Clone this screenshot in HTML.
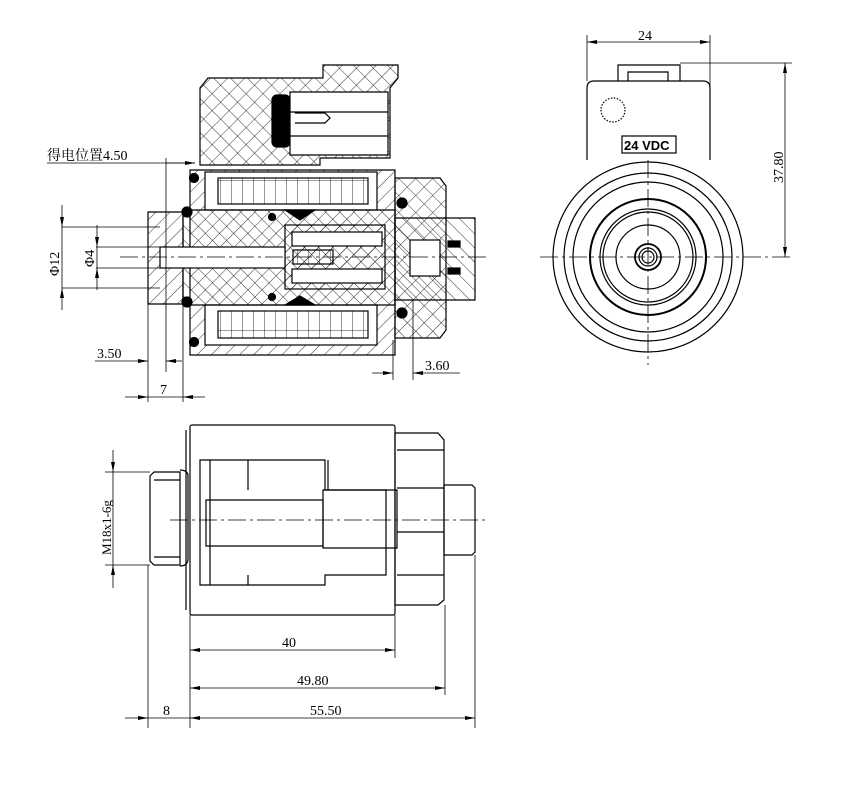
<!DOCTYPE html>
<html><head><meta charset="utf-8"><style>
html,body{margin:0;padding:0;background:#fff;width:852px;height:800px;overflow:hidden}
text{font-family:"Liberation Serif","Noto Serif CJK SC",serif;fill:#000}
</style></head><body>
<svg width="852" height="800" viewBox="0 0 852 800" xmlns="http://www.w3.org/2000/svg">
<defs>
<pattern id="h1" width="10" height="10" patternUnits="userSpaceOnUse" patternTransform="rotate(45)"><line x1="0" y1="0" x2="0" y2="10" stroke="#000" stroke-width="0.8"/></pattern>
<pattern id="h2" width="10" height="10" patternUnits="userSpaceOnUse" patternTransform="rotate(-45)"><line x1="0" y1="0" x2="0" y2="10" stroke="#000" stroke-width="0.8"/></pattern>
<pattern id="x1" width="12" height="12" patternUnits="userSpaceOnUse" patternTransform="rotate(45)"><path d="M0 0V12M0 0H12" stroke="#000" stroke-width="0.8" fill="none"/></pattern>
<pattern id="g1" width="11" height="30" patternUnits="userSpaceOnUse"><path d="M0 0V30M0 0H11" stroke="#000" stroke-width="0.8" fill="none"/></pattern>
<marker id="a" viewBox="0 0 10 4" refX="10" refY="2" markerWidth="10" markerHeight="4" orient="auto-start-reverse" markerUnits="userSpaceOnUse"><path d="M0 0L10 2L0 4z" fill="#000"/></marker>
</defs>
<g stroke="#000" fill="none" stroke-width="1.2">
<!-- TOP SECTION VIEW -->
<path d="M208 78H323V65H398V78L390 88V158H320V165H200V88Z" fill="url(#x1)"/>
<rect x="272" y="95" width="18" height="52" rx="5" fill="#000"/>
<path d="M290 92H388V155H290Z" fill="#fff"/>
<line x1="290" y1="112" x2="388" y2="112"/><line x1="290" y1="136" x2="388" y2="136"/>
<path d="M295 113H325L330 118L325 123H295" />
<path d="M190 170H395V355H190Z" fill="url(#h1)"/>
<rect x="205" y="172" width="172" height="38" fill="#fff"/>
<rect x="218" y="178" width="150" height="26" fill="url(#g1)"/>
<rect x="205" y="305" width="172" height="40" fill="#fff"/>
<rect x="218" y="311" width="150" height="27" fill="url(#g1)"/>
<path d="M395 178H440L446 186V330L440 338H395Z" fill="url(#x1)"/>
<path d="M148 212H183V304H148Z" fill="url(#h1)"/>
<path d="M183 210H395V305H183Z" fill="url(#h2)"/>
<rect x="285" y="225" width="100" height="64" fill="url(#h1)"/>
<rect x="292" y="232" width="90" height="14" fill="#fff"/>
<rect x="292" y="269" width="90" height="14" fill="#fff"/>
<rect x="160" y="247" width="125" height="21" fill="#fff"/>
<rect x="293" y="250" width="40" height="14" fill="url(#g1)"/>
<path d="M395 218H475V300H395Z" fill="url(#h2)"/>
<rect x="410" y="240" width="30" height="36" fill="#fff"/>
<path d="M285 210L300 220L315 210Z" fill="#000"/><path d="M285 305L300 296L315 305Z" fill="#000"/>
<circle cx="187" cy="212" r="5" fill="#000"/><circle cx="187" cy="302" r="5" fill="#000"/>
<circle cx="194" cy="178" r="4.5" fill="#000"/><circle cx="194" cy="342" r="4.5" fill="#000"/>
<circle cx="402" cy="203" r="5" fill="#000"/><circle cx="402" cy="313" r="5" fill="#000"/>
<circle cx="272" cy="217" r="3.5" fill="#000"/><circle cx="272" cy="297" r="3.5" fill="#000"/>
<rect x="448" y="241" width="12" height="6" fill="#000"/><rect x="448" y="268" width="12" height="6" fill="#000"/>
<line x1="120" y1="257" x2="490" y2="257" stroke-width="0.7" stroke-dasharray="18 4 3 4"/>
<!-- top dims -->
<g stroke-width="0.8">
<line x1="47" y1="163" x2="195" y2="163"/>
<line x1="166" y1="158" x2="166" y2="372" /><line x1="148" y1="300" x2="148" y2="402"/><line x1="183" y1="300" x2="183" y2="402"/>
<line x1="166" y1="163" x2="195" y2="163" marker-end="url(#a)"/>
<line x1="62" y1="227" x2="160" y2="227"/><line x1="62" y1="288" x2="160" y2="288"/>
<line x1="62" y1="205" x2="62" y2="227" marker-end="url(#a)"/><line x1="62" y1="310" x2="62" y2="288" marker-end="url(#a)"/>
<line x1="62" y1="227" x2="62" y2="288"/>
<line x1="96" y1="247" x2="170" y2="247"/><line x1="96" y1="268" x2="170" y2="268"/>
<line x1="97" y1="225" x2="97" y2="247" marker-end="url(#a)"/><line x1="97" y1="290" x2="97" y2="268" marker-end="url(#a)"/>
<line x1="97" y1="247" x2="97" y2="268"/>
<line x1="95" y1="361" x2="148" y2="361" marker-end="url(#a)"/><line x1="182" y1="361" x2="166" y2="361" marker-end="url(#a)"/>
<line x1="125" y1="397" x2="148" y2="397" marker-end="url(#a)"/><line x1="205" y1="397" x2="183" y2="397" marker-end="url(#a)"/>
<line x1="148" y1="397" x2="183" y2="397"/>
<line x1="393" y1="340" x2="393" y2="380"/><line x1="413" y1="300" x2="413" y2="380"/>
<line x1="372" y1="373" x2="393" y2="373" marker-end="url(#a)"/><line x1="460" y1="373" x2="413" y2="373" marker-end="url(#a)"/>
</g>
<!-- RIGHT VIEW -->
<path d="M587 160V88Q587 81 594 81H703Q710 81 710 88V160"/>
<path d="M618 81V65H680V81M628 81V72H668V81"/>
<circle cx="648" cy="257" r="95" fill="#fff"/>
<circle cx="648" cy="257" r="84"/>
<circle cx="648" cy="257" r="75"/>
<circle cx="648" cy="257" r="58" stroke-width="2"/>
<circle cx="648" cy="257" r="48"/><circle cx="648" cy="257" r="45"/>
<circle cx="648" cy="257" r="32"/>
<circle cx="648" cy="257" r="13" stroke-width="1.8"/><circle cx="648" cy="257" r="9"/><circle cx="648" cy="257" r="6"/>
<circle cx="613" cy="110" r="12" stroke-dasharray="1.5 1.5"/>
<rect x="622" y="136" width="54" height="17" fill="#fff"/>
<g stroke-width="0.8">
<line x1="540" y1="257" x2="790" y2="257" stroke-dasharray="18 4 3 4"/>
<line x1="648" y1="160" x2="648" y2="365" stroke-dasharray="18 4 3 4"/>
<line x1="587" y1="35" x2="587" y2="81"/><line x1="710" y1="35" x2="710" y2="160"/>
<line x1="648" y1="42" x2="587" y2="42" marker-end="url(#a)"/><line x1="648" y1="42" x2="710" y2="42" marker-end="url(#a)"/>
<line x1="680" y1="63" x2="792" y2="63"/>
<line x1="785" y1="160" x2="785" y2="63" marker-end="url(#a)"/><line x1="785" y1="160" x2="785" y2="257" marker-end="url(#a)"/>
</g>
<!-- BOTTOM VIEW -->
<rect x="190" y="425" width="205" height="190" rx="2"/>
<path d="M186 430V610"/>
<path d="M150 476L154 472H180V565H154L150 561Z"/><line x1="154" y1="480" x2="180" y2="480"/><line x1="154" y1="557" x2="180" y2="557"/>
<path d="M180 470Q187 470 188 475V560Q187 566 180 566"/>
<path d="M200 460H325V490H386V575H325V585H200Z"/>
<path d="M210 460V585M248 460V490M248 575V585M328 460V490"/>
<path d="M206 500H323V546H206Z"/><path d="M323 490H397V548H323Z"/>
<path d="M395 433H438L444 440V600L438 605H395Z"/>
<path d="M397 450H444M397 488H444M397 532H444M397 575H444"/>
<path d="M444 485H472L475 488V552L472 555H444Z"/>
<line x1="170" y1="520" x2="485" y2="520" stroke-width="0.7" stroke-dasharray="18 4 3 4"/>
<g stroke-width="0.8">
<line x1="105" y1="472" x2="150" y2="472"/><line x1="105" y1="565" x2="150" y2="565"/>
<line x1="113" y1="450" x2="113" y2="472" marker-end="url(#a)"/><line x1="113" y1="588" x2="113" y2="565" marker-end="url(#a)"/>
<line x1="113" y1="472" x2="113" y2="565"/>
<line x1="148" y1="565" x2="148" y2="728"/><line x1="190" y1="615" x2="190" y2="728"/>
<line x1="395" y1="615" x2="395" y2="658"/><line x1="445" y1="605" x2="445" y2="695"/><line x1="475" y1="555" x2="475" y2="728"/>
<line x1="292" y1="650" x2="190" y2="650" marker-end="url(#a)"/><line x1="292" y1="650" x2="395" y2="650" marker-end="url(#a)"/>
<line x1="310" y1="688" x2="190" y2="688" marker-end="url(#a)"/><line x1="310" y1="688" x2="445" y2="688" marker-end="url(#a)"/>
<line x1="330" y1="718" x2="190" y2="718" marker-end="url(#a)"/><line x1="330" y1="718" x2="475" y2="718" marker-end="url(#a)"/>
<line x1="125" y1="718" x2="148" y2="718" marker-end="url(#a)"/><line x1="148" y1="718" x2="190" y2="718"/>
</g>
</g>
<g font-size="14">
<text x="47" y="160">得电位置4.50</text>
<text x="97" y="358">3.50</text>
<text x="160" y="394">7</text>
<text x="425" y="370">3.60</text>
<text x="638" y="40">24</text>
<text x="282" y="647">40</text>
<text x="297" y="685">49.80</text>
<text x="310" y="715">55.50</text>
<text x="163" y="715">8</text>
<text transform="translate(59,276) rotate(-90)">Φ12</text>
<text transform="translate(94,267) rotate(-90)">Φ4</text>
<text transform="translate(111,555) rotate(-90)" font-size="13">M18x1-6g</text>
<text transform="translate(783,183) rotate(-90)">37.80</text>
<text x="624" y="150" font-weight="bold" font-size="13" style="font-family:'Liberation Sans',sans-serif">24 VDC</text>
</g>
</svg>
</body></html>
